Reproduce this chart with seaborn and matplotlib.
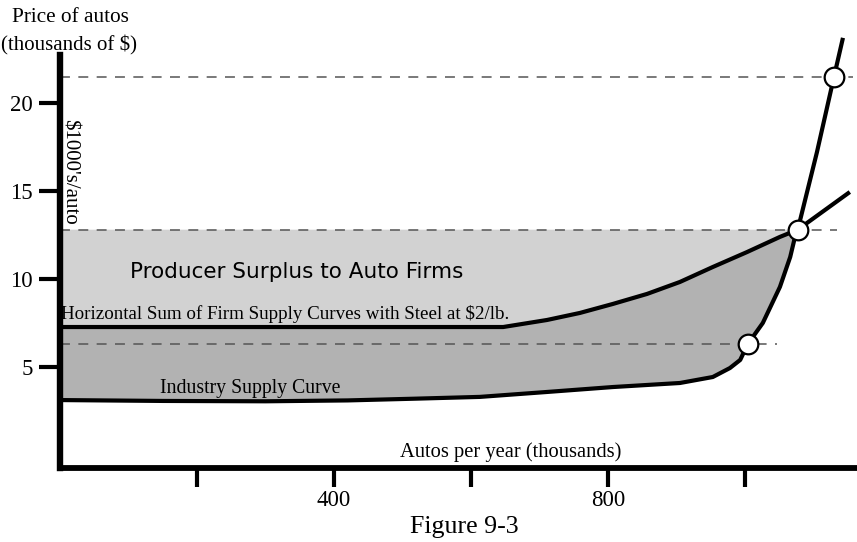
import numpy as np
import pandas as pd
import matplotlib
matplotlib.use("Agg")
import matplotlib.pyplot as plt
import seaborn as sns

# ---- data ----
industry_x = [0, 150, 300, 420, 520, 613, 711, 807, 905, 953, 978, 993, 1004,
              1026, 1051, 1066, 1073, 1077, 1105, 1130, 1143]
industry_y = [3.12, 3.07, 3.05, 3.10, 3.20, 3.30, 3.58, 3.86, 4.09, 4.43, 4.94,
              5.40, 6.30, 7.50, 9.55, 11.25, 12.39, 12.80, 17.2, 21.5, 23.7]

hsum_x = [0, 350, 647, 711, 759, 807, 857, 905, 953, 1003, 1051, 1077, 1153]
hsum_y = [7.27, 7.27, 7.27, 7.67, 8.07, 8.58, 9.15, 9.83, 10.68, 11.53, 12.39,
          12.80, 14.94]

price_levels = [21.5, 12.8, 6.3]
price_line_ends = [1158, 1134, 1047]
points_x = [1130, 1077, 1004]
points_y = [21.5, 12.8, 6.3]

x_ticks = [200, 400, 600, 800, 1000]
x_tick_labels = ["", "400", "", "800", ""]
y_ticks = [5, 10, 15, 20]
y_tick_labels = ["5", "10", "15", "20"]

serif = ["Liberation Serif", "DejaVu Serif"]

sns.set_theme(style="white")
plt.rcParams["font.family"] = serif
plt.rcParams["text.color"] = "black"

fig = plt.figure(figsize=(8.57, 5.42), dpi=100)
ax = fig.add_axes([60 / 857, 74 / 542, 797 / 857, 468 / 542])
ax.set_xlim(0, 1163.5)
ax.set_ylim(-0.74, 25.85)
ax.patch.set_alpha(0)

# ---- shaded areas ----
n_eq = industry_x.index(1077)
m_eq = hsum_x.index(1077)
lx = [0, 1077] + hsum_x[:m_eq + 1][::-1]
ly = [12.8, 12.8] + hsum_y[:m_eq + 1][::-1]
ax.fill(lx, ly, color="#d2d2d2", lw=0, zorder=1)
dx = hsum_x[:m_eq + 1] + industry_x[:n_eq + 1][::-1]
dy = hsum_y[:m_eq + 1] + industry_y[:n_eq + 1][::-1]
ax.fill(dx, dy, color="#b2b2b2", lw=0, zorder=1)

# ---- dashed price lines ----
for lvl, xe in zip(price_levels, price_line_ends):
    ax.plot([0, xe], [lvl, lvl], color="#555555", lw=1.1,
            linestyle=(0, (6.5, 5.5)), zorder=2)

# ---- curves ----
df_ind = pd.DataFrame({"x": industry_x, "y": industry_y})
df_hs = pd.DataFrame({"x": hsum_x, "y": hsum_y})
for d in (df_ind, df_hs):
    sns.lineplot(data=d, x="x", y="y", ax=ax, color="black", lw=3.0,
                 sort=False, zorder=3, clip_on=False)
for ln in ax.lines:
    ln.set_solid_joinstyle("round")
    ln.set_solid_capstyle("butt")

sns.scatterplot(x=points_x, y=points_y, ax=ax, s=200, color="white",
                edgecolor="black", linewidth=1.6, zorder=5, clip_on=False)

# ---- axes styling ----
for s in ["top", "right"]:
    ax.spines[s].set_visible(False)
ax.spines["left"].set_linewidth(4.6)
ax.spines["bottom"].set_linewidth(4.2)
ax.spines["left"].set_color("black")
ax.spines["bottom"].set_color("black")
ax.spines["left"].set_bounds(-0.74, 22.7)

ax.set_xticks(x_ticks)
ax.set_xticklabels(x_tick_labels)
ax.set_yticks(y_ticks)
ax.set_yticklabels(y_tick_labels)
ax.tick_params(axis="y", direction="out", length=15, width=3.0, color="black",
               labelsize=16.5, pad=4.5, left=True, labelcolor="black")
ax.tick_params(axis="x", direction="out", length=14, width=3.0, color="black",
               labelsize=16.5, pad=2, bottom=True, labelcolor="black")
ax.set_xlabel("")
ax.set_ylabel("")
ax.grid(False)

# ---- texts ----
fig.text(70 / 857, 1 - 17 / 542, "Price of autos", ha="center", va="center",
         fontsize=15.3, family=serif, color="black")
fig.text(69 / 857, 1 - 45 / 542, "(thousands of $)", ha="center", va="center",
         fontsize=15, family=serif, color="black")
fig.text(69 / 857, 1 - 172 / 542, "$1000's/auto", ha="center", va="center",
         rotation=-90, fontsize=15, family=serif, color="black")
fig.text(297 / 857, 1 - 272 / 542, "Producer Surplus to Auto Firms",
         ha="center", va="center", fontsize=15.5, family=["DejaVu Sans"],
         color="black")
fig.text(61 / 857, 1 - 314 / 542,
         "Horizontal Sum of Firm Supply Curves with Steel at $2/lb.",
         ha="left", va="center", fontsize=13.7, family=serif, color="black")
fig.text(160 / 857, 1 - 389 / 542, "Industry Supply Curve", ha="left",
         va="center", fontsize=14.2, family=serif, color="black")
fig.text(511 / 857, 1 - 452 / 542, "Autos per year (thousands)",
         ha="center", va="center", fontsize=14.8, family=serif, color="black")
fig.text(464 / 857, 1 - 527 / 542, "Figure 9-3", ha="center", va="center",
         fontsize=18.6, family=serif, color="black")

fig.savefig("out.png", dpi=100)
